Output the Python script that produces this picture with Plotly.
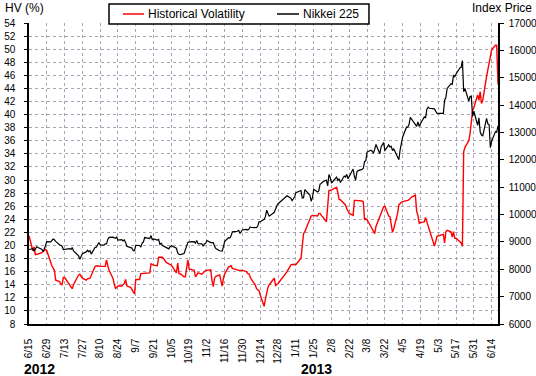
import plotly.graph_objects as go

# ---------------- data ----------------
nikkei_dates = [
    "2012-06-15", "2012-06-18", "2012-06-19", "2012-06-20", "2012-06-21", "2012-06-22", "2012-06-25", "2012-06-26",
    "2012-06-27", "2012-06-28", "2012-06-29", "2012-07-02", "2012-07-03", "2012-07-04", "2012-07-05", "2012-07-06",
    "2012-07-09", "2012-07-10", "2012-07-11", "2012-07-12", "2012-07-13", "2012-07-17", "2012-07-18", "2012-07-19",
    "2012-07-20", "2012-07-23", "2012-07-24", "2012-07-25", "2012-07-26", "2012-07-27", "2012-07-30", "2012-07-31",
    "2012-08-01", "2012-08-02", "2012-08-03", "2012-08-06", "2012-08-07", "2012-08-08", "2012-08-09", "2012-08-10",
    "2012-08-13", "2012-08-14", "2012-08-15", "2012-08-16", "2012-08-17", "2012-08-20", "2012-08-21", "2012-08-22",
    "2012-08-23", "2012-08-24", "2012-08-27", "2012-08-28", "2012-08-29", "2012-08-30", "2012-08-31", "2012-09-03",
    "2012-09-04", "2012-09-05", "2012-09-06", "2012-09-07", "2012-09-10", "2012-09-11", "2012-09-12", "2012-09-13",
    "2012-09-14", "2012-09-18", "2012-09-19", "2012-09-20", "2012-09-21", "2012-09-24", "2012-09-25", "2012-09-26",
    "2012-09-27", "2012-09-28", "2012-10-01", "2012-10-02", "2012-10-03", "2012-10-04", "2012-10-05", "2012-10-09",
    "2012-10-10", "2012-10-11", "2012-10-12", "2012-10-15", "2012-10-16", "2012-10-17", "2012-10-18", "2012-10-19",
    "2012-10-22", "2012-10-23", "2012-10-24", "2012-10-25", "2012-10-26", "2012-10-29", "2012-10-30", "2012-10-31",
    "2012-11-01", "2012-11-02", "2012-11-05", "2012-11-06", "2012-11-07", "2012-11-08", "2012-11-09", "2012-11-12",
    "2012-11-13", "2012-11-14", "2012-11-15", "2012-11-16", "2012-11-19", "2012-11-20", "2012-11-21", "2012-11-22",
    "2012-11-26", "2012-11-27", "2012-11-28", "2012-11-29", "2012-11-30", "2012-12-03", "2012-12-04", "2012-12-05",
    "2012-12-06", "2012-12-07", "2012-12-10", "2012-12-11", "2012-12-12", "2012-12-13", "2012-12-14", "2012-12-17",
    "2012-12-18", "2012-12-19", "2012-12-20", "2012-12-21", "2012-12-25", "2012-12-26", "2012-12-27", "2012-12-28",
    "2013-01-04", "2013-01-07", "2013-01-08", "2013-01-09", "2013-01-10", "2013-01-11", "2013-01-15", "2013-01-16",
    "2013-01-17", "2013-01-18", "2013-01-21", "2013-01-22", "2013-01-23", "2013-01-24", "2013-01-25", "2013-01-28",
    "2013-01-29", "2013-01-30", "2013-01-31", "2013-02-01", "2013-02-04", "2013-02-05", "2013-02-06", "2013-02-07",
    "2013-02-08", "2013-02-12", "2013-02-13", "2013-02-14", "2013-02-15", "2013-02-18", "2013-02-19", "2013-02-20",
    "2013-02-21", "2013-02-22", "2013-02-25", "2013-02-26", "2013-02-27", "2013-02-28", "2013-03-01", "2013-03-04",
    "2013-03-05", "2013-03-06", "2013-03-07", "2013-03-08", "2013-03-11", "2013-03-12", "2013-03-13", "2013-03-14",
    "2013-03-15", "2013-03-18", "2013-03-19", "2013-03-21", "2013-03-22", "2013-03-25", "2013-03-26", "2013-03-27",
    "2013-03-28", "2013-03-29", "2013-04-01", "2013-04-02", "2013-04-03", "2013-04-04", "2013-04-05", "2013-04-08",
    "2013-04-09", "2013-04-10", "2013-04-11", "2013-04-12", "2013-04-15", "2013-04-16", "2013-04-17", "2013-04-18",
    "2013-04-19", "2013-04-22", "2013-04-23", "2013-04-24", "2013-04-25", "2013-04-26", "2013-04-30", "2013-05-01",
    "2013-05-02", "2013-05-07", "2013-05-08", "2013-05-09", "2013-05-10", "2013-05-13", "2013-05-14", "2013-05-15",
    "2013-05-16", "2013-05-17", "2013-05-20", "2013-05-21", "2013-05-22", "2013-05-23", "2013-05-24", "2013-05-27",
    "2013-05-28", "2013-05-29", "2013-05-30", "2013-05-31", "2013-06-03", "2013-06-04", "2013-06-05", "2013-06-06",
    "2013-06-07", "2013-06-10", "2013-06-11", "2013-06-12", "2013-06-13", "2013-06-14", "2013-06-17", "2013-06-18",
    "2013-06-19",
]
nikkei_values = [
    8721, 8756, 8655, 8752, 8824, 8798, 8734, 8663,
    8730, 8874, 9007, 9003, 9066, 9104, 9079, 9021,
    8896, 8857, 8851, 8720, 8724, 8755, 8726, 8795,
    8669, 8508, 8488, 8365, 8443, 8566, 8635, 8695,
    8641, 8678, 8555, 8803, 8804, 8881, 8978, 8891,
    8885, 8929, 8929, 9092, 9163, 9171, 9156, 9131,
    9178, 9070, 9085, 9033, 9069, 8983, 8839, 8783,
    8775, 8679, 8680, 8871, 8869, 8807, 8959, 8995,
    9159, 9123, 9232, 9086, 9110, 9069, 9091, 8906,
    8949, 8870, 8797, 8786, 8746, 8824, 8863, 8769,
    8596, 8546, 8534, 8578, 8701, 8807, 8982, 9002,
    9010, 9014, 8955, 9056, 8933, 8930, 8841, 8928,
    8946, 9051, 8975, 8976, 8972, 8837, 8757, 8676,
    8662, 8664, 8830, 9024, 9153, 9142, 9222, 9366,
    9388, 9423, 9308, 9400, 9446, 9458, 9432, 9468,
    9545, 9527, 9533, 9525, 9581, 9743, 9737, 9828,
    9923, 10160, 10039, 9940, 10081, 10230, 10322, 10395,
    10688, 10599, 10508, 10578, 10652, 10801, 10879, 10600,
    10610, 10913, 10747, 10710, 10487, 10620, 10926, 10825,
    10866, 11113, 11138, 11191, 11260, 11046, 11463, 11357,
    11153, 11370, 11252, 11307, 11173, 11408, 11372, 11468,
    11309, 11385, 11662, 11399, 11254, 11559, 11606, 11652,
    11683, 11932, 11968, 12283, 12349, 12315, 12239, 12381,
    12560, 12220, 12468, 12635, 12338, 12546, 12472, 12494,
    12336, 12398, 12136, 12004, 12363, 12635, 12834, 13193,
    13193, 13289, 13549, 13486, 13276, 13222, 13383, 13221,
    13317, 13569, 13530, 13844, 13926, 13884, 13861, 13800,
    13695, 13695, 14180, 14285, 14608, 14782, 14758, 15096,
    15037, 15138, 15360, 15382, 15627, 14484, 14612, 14143,
    14311, 14326, 13589, 13775, 13262, 13534, 13014, 12904,
    12877, 13515, 13318, 13289, 12446, 12686, 13033, 13008,
    13245,
]

hv_dates = [
    "2012-06-15", "2012-06-18", "2012-06-19", "2012-06-20", "2012-06-22", "2012-06-25", "2012-06-27", "2012-06-28",
    "2012-06-29", "2012-07-02", "2012-07-03", "2012-07-05", "2012-07-06", "2012-07-09", "2012-07-10", "2012-07-11",
    "2012-07-12", "2012-07-13", "2012-07-17", "2012-07-18", "2012-07-19", "2012-07-20", "2012-07-23", "2012-07-24",
    "2012-07-25", "2012-07-26", "2012-07-27", "2012-07-30", "2012-07-31", "2012-08-02", "2012-08-03", "2012-08-06",
    "2012-08-08", "2012-08-10", "2012-08-14", "2012-08-15", "2012-08-16", "2012-08-17", "2012-08-20", "2012-08-21",
    "2012-08-22", "2012-08-23", "2012-08-24", "2012-08-27", "2012-08-28", "2012-08-29", "2012-08-30", "2012-08-31",
    "2012-09-03", "2012-09-04", "2012-09-05", "2012-09-06", "2012-09-07", "2012-09-10", "2012-09-11", "2012-09-12",
    "2012-09-14", "2012-09-18", "2012-09-19", "2012-09-21", "2012-09-24", "2012-09-25", "2012-09-28", "2012-10-01",
    "2012-10-03", "2012-10-05", "2012-10-09", "2012-10-10", "2012-10-11", "2012-10-12", "2012-10-15", "2012-10-16",
    "2012-10-17", "2012-10-18", "2012-10-19", "2012-10-22", "2012-10-23", "2012-10-24", "2012-10-25", "2012-10-26",
    "2012-10-29", "2012-10-31", "2012-11-01", "2012-11-02", "2012-11-05", "2012-11-06", "2012-11-07", "2012-11-08",
    "2012-11-09", "2012-11-12", "2012-11-13", "2012-11-14", "2012-11-15", "2012-11-16", "2012-11-19", "2012-11-21",
    "2012-11-22", "2012-11-26", "2012-11-27", "2012-11-30", "2012-12-03", "2012-12-04", "2012-12-05", "2012-12-06",
    "2012-12-07", "2012-12-10", "2012-12-11", "2012-12-12", "2012-12-13", "2012-12-14", "2012-12-17", "2012-12-18",
    "2012-12-19", "2012-12-20", "2012-12-21", "2012-12-25", "2012-12-26", "2012-12-27", "2012-12-28", "2013-01-04",
    "2013-01-07", "2013-01-08", "2013-01-11", "2013-01-15", "2013-01-16", "2013-01-17", "2013-01-18", "2013-01-21",
    "2013-01-22", "2013-01-23", "2013-01-24", "2013-01-25", "2013-01-28", "2013-01-29", "2013-01-30", "2013-01-31",
    "2013-02-01", "2013-02-04", "2013-02-05", "2013-02-06", "2013-02-07", "2013-02-08", "2013-02-12", "2013-02-13",
    "2013-02-14", "2013-02-15", "2013-02-18", "2013-02-19", "2013-02-20", "2013-02-21", "2013-02-22", "2013-02-25",
    "2013-02-26", "2013-02-27", "2013-02-28", "2013-03-01", "2013-03-04", "2013-03-05", "2013-03-06", "2013-03-07",
    "2013-03-08", "2013-03-11", "2013-03-12", "2013-03-13", "2013-03-14", "2013-03-15", "2013-03-18", "2013-03-19",
    "2013-03-21", "2013-03-22", "2013-03-25", "2013-03-26", "2013-03-27", "2013-03-28", "2013-03-29", "2013-04-01",
    "2013-04-02", "2013-04-03", "2013-04-04", "2013-04-05", "2013-04-08", "2013-04-09", "2013-04-10", "2013-04-11",
    "2013-04-12", "2013-04-15", "2013-04-16", "2013-04-17", "2013-04-18", "2013-04-19", "2013-04-22", "2013-04-23",
    "2013-04-24", "2013-04-25", "2013-04-26", "2013-04-30", "2013-05-01", "2013-05-02", "2013-05-07", "2013-05-08",
    "2013-05-09", "2013-05-10", "2013-05-13", "2013-05-14", "2013-05-15", "2013-05-16", "2013-05-17", "2013-05-20",
    "2013-05-21", "2013-05-22", "2013-05-23", "2013-05-24", "2013-05-27", "2013-05-28", "2013-05-29", "2013-05-30",
    "2013-05-31", "2013-06-03", "2013-06-04", "2013-06-05", "2013-06-06", "2013-06-07", "2013-06-10", "2013-06-11",
    "2013-06-12", "2013-06-13", "2013-06-14", "2013-06-17", "2013-06-18", "2013-06-19",
]
hv_values = [
    21.5, 19.2, 19.8, 18.6, 18.7, 18.9, 19.2, 19.4,
    19.2, 17.5, 16.9, 16.2, 14.7, 14.5, 14.1, 14.0,
    15.1, 15.1, 13.9, 13.6, 13.4, 14.0, 15.0, 15.5,
    15.6, 15.2, 15.0, 14.7, 14.9, 15.0, 15.5, 16.8,
    16.9, 16.8, 16.8, 17.8, 16.9, 16.2, 15.0, 14.1,
    13.4, 13.6, 13.8, 13.8, 14.1, 14.2, 14.8, 13.8,
    13.6, 13.2, 12.9, 12.6, 14.8, 14.8, 15.7, 15.7,
    15.8, 15.8, 17.2, 17.0, 16.9, 18.2, 18.2, 17.4,
    17.2, 17.0, 15.8, 17.3, 15.7, 15.7, 15.2, 15.2,
    16.5, 17.8, 16.4, 16.2, 16.2, 15.2, 15.6, 15.8,
    15.6, 16.0, 16.2, 16.2, 16.3, 14.6, 13.7, 15.0,
    15.3, 15.5, 14.6, 13.8, 15.0, 15.7, 16.7, 16.9,
    16.5, 16.3, 16.2, 16.2, 16.0, 15.7, 15.7, 15.2,
    14.8, 14.0, 13.4, 13.2, 13.1, 12.4, 10.7, 11.8,
    12.9, 13.6, 14.0, 15.0, 13.9, 14.0, 14.2, 16.0,
    17.0, 17.1, 17.1, 18.0, 20.3, 21.8, 22.1, 23.6,
    24.1, 24.5, 24.6, 24.6, 24.5, 24.9, 24.9, 24.6,
    24.4, 23.6, 26.9, 28.4, 28.4, 28.5, 28.9, 28.1,
    27.0, 27.0, 26.5, 26.2, 25.6, 25.2, 24.9, 24.6,
    26.9, 26.9, 26.9, 26.9, 26.8, 26.7, 24.0, 24.1,
    23.9, 22.9, 22.6, 22.1, 21.8, 22.9, 24.4, 25.0,
    25.9, 26.0, 24.5, 24.4, 22.9, 22.0, 22.6, 24.9,
    26.2, 26.5, 26.6, 26.7, 26.8, 26.9, 27.0, 27.2,
    27.4, 27.7, 25.2, 24.6, 23.4, 23.5, 23.6, 24.3,
    23.4, 23.0, 22.4, 19.9, 20.6, 21.4, 21.7, 20.4,
    22.1, 22.3, 22.1, 21.3, 22.1, 21.1, 21.1, 20.6,
    20.4, 19.9, 34.3, 35.0, 36.0, 37.1, 39.2, 40.6,
    41.1, 43.0, 42.2, 43.5, 41.7, 42.2, 45.8, 46.8,
    48.1, 49.1, 49.9, 50.6, 50.6, 44.6,
]

tick_dates = [
    "2012-06-15", "2012-06-29", "2012-07-13", "2012-07-27", "2012-08-10", "2012-08-24", "2012-09-07",
    "2012-09-21", "2012-10-05", "2012-10-19", "2012-11-02", "2012-11-16", "2012-11-30", "2012-12-14",
    "2012-12-28", "2013-01-11", "2013-01-25", "2013-02-08", "2013-02-22", "2013-03-08", "2013-03-22",
    "2013-04-05", "2013-04-19", "2013-05-03", "2013-05-17", "2013-05-31", "2013-06-14",
]
tick_labels = [
    "6/15", "6/29", "7/13", "7/27", "8/10", "8/24", "9/7",
    "9/21", "10/5", "10/19", "11/2", "11/16", "11/30", "12/14",
    "12/28", "1/11", "1/25", "2/8", "2/22", "3/8", "3/22",
    "4/5", "4/19", "5/3", "5/17", "5/31", "6/14",
]

series_names = ["Historical Volatility", "Nikkei 225"]
series_colors = ["#ff0000", "#000000"]

# ---------------- figure ----------------
FONT = "Liberation Sans, Arial, sans-serif"
GRID = "#aaa3b6"

fig = go.Figure()
fig.add_trace(go.Scatter(x=hv_dates, y=hv_values, mode="lines", name=series_names[0],
                         line=dict(color=series_colors[0], width=1.4), yaxis="y"))
fig.add_trace(go.Scatter(x=nikkei_dates, y=nikkei_values, mode="lines", name=series_names[1],
                         line=dict(color=series_colors[1], width=1.2), yaxis="y2"))

# legend drawn as a boxed key above the plot area (paper coordinates)
shapes = [
    dict(type="rect", xref="paper", yref="paper", x0=0.1706, x1=0.7249, y0=0.9967, y1=1.0631,
         line=dict(color="black", width=1.5), fillcolor="white", layer="above"),
    dict(type="line", xref="paper", yref="paper", x0=0.2004, x1=0.2452, y0=1.0299, y1=1.0299,
         line=dict(color=series_colors[0], width=1.5), layer="above"),
    dict(type="line", xref="paper", yref="paper", x0=0.5288, x1=0.5757, y0=1.0299, y1=1.0299,
         line=dict(color=series_colors[1], width=1.5), layer="above"),
]

fig.update_layout(
    width=536, height=376,
    margin=dict(l=29, r=38, t=23, b=52, autoexpand=False),
    paper_bgcolor="white", plot_bgcolor="white",
    font=dict(family=FONT, size=10, color="black"),
    showlegend=False,
    xaxis=dict(
        type="date", range=["2012-06-15", "2013-06-19"],
        tickmode="array", tickvals=tick_dates, ticktext=tick_labels, tickangle=-90,
        showgrid=True, gridcolor=GRID, griddash="dot", gridwidth=1,
        showline=True, linecolor="black", linewidth=1.5,
        ticks="", ticklabelstandoff=9, tickfont=dict(size=10),
        zeroline=False, fixedrange=True, automargin=False,
    ),
    yaxis=dict(
        range=[8, 54], tick0=8, dtick=2,
        showgrid=True, gridcolor=GRID, griddash="dot", gridwidth=1,
        showline=True, linecolor="black", linewidth=1.5,
        ticks="outside", ticklen=3, tickcolor="black", ticklabelstandoff=7,
        zeroline=False, tickfont=dict(size=10), automargin=False,
    ),
    yaxis2=dict(
        range=[6000, 17000], tick0=6000, dtick=1000, tickformat="d",
        overlaying="y", side="right",
        showgrid=False, showline=True, linecolor="black", linewidth=1.5,
        ticks="outside", ticklen=4, tickcolor="black", ticklabelstandoff=3,
        zeroline=False, tickfont=dict(size=10), automargin=False,
    ),
    shapes=shapes,
    annotations=[
        dict(text=series_names[0], xref="paper", yref="paper", x=0.2495, y=1.0299,
             xanchor="left", yanchor="middle", showarrow=False, font=dict(size=12)),
        dict(text=series_names[1], xref="paper", yref="paper", x=0.5800, y=1.0299,
             xanchor="left", yanchor="middle", showarrow=False, font=dict(size=12)),
        dict(text="HV (%)", xref="paper", yref="paper", x=-0.055, y=1.05,
             xanchor="left", yanchor="middle", showarrow=False, font=dict(size=12)),
        dict(text="Index Price", xref="paper", yref="paper", x=1.077, y=1.05,
             xanchor="right", yanchor="middle", showarrow=False, font=dict(size=12)),
        dict(text="<b>2012</b>", xref="paper", yref="paper", x=0.022, y=-0.15,
             xanchor="center", yanchor="middle", showarrow=False, font=dict(size=14)),
        dict(text="<b>2013</b>", xref="paper", yref="paper", x=0.612, y=-0.15,
             xanchor="center", yanchor="middle", showarrow=False, font=dict(size=14)),
    ],
)

fig.write_html(
    "out.html",
    config={"displayModeBar": False},
    post_script="document.body.style.margin='0';document.body.style.overflow='hidden';",
)
